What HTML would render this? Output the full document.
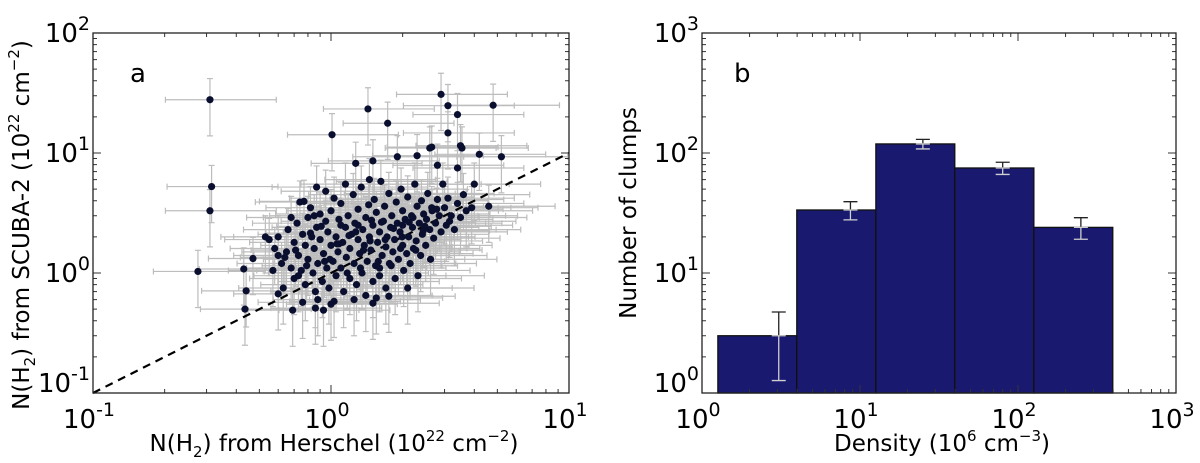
<!DOCTYPE html>
<html><head><meta charset="utf-8"><style>
html,body{margin:0;padding:0;background:#fff;}
svg{display:block;font-family:"DejaVu Sans","Liberation Sans",sans-serif;}
</style></head><body>
<svg id="fig" width="1200" height="463" viewBox="0 0 1200 463" xmlns="http://www.w3.org/2000/svg">
<g id="pa"></g>
<g id="pb"></g>
</svg>
<script>
// ---- Panel a data ----
const xVals = [0.31,0.315,0.31,0.276,0.43,0.44,0.435,1.01,1.43,1.73,2.9,3.1,4.8,3.4,3.1,3.5,3.55,4.2,5.2,2.6,2.65,2.3,1.9,1.27,1.5,2.8,3.4,4.6,4.0,0.87,0.77,0.53,0.47,0.6,0.69,0.76,0.86,0.93,1.03,1.5,1.75,
0.55,0.58,0.6,0.62,0.63,0.65,0.66,0.68,0.7,0.7,0.72,0.73,0.74,0.75,0.76,0.78,0.78,0.8,0.8,0.82,0.83,0.84,0.85,0.86,0.87,0.88,0.9,0.9,0.92,0.93,0.95,0.96,0.97,0.98,1.0,1.0,1.02,1.03,1.05,1.05,1.07,1.08,1.1,1.1,1.12,1.13,1.15,1.16,1.18,1.2,1.2,1.22,1.24,1.25,1.26,1.28,1.3,1.3,1.32,1.34,1.35,1.36,1.38,1.4,1.4,1.42,1.44,1.45,1.47,1.5,1.5,1.52,1.54,1.55,1.57,1.6,1.6,1.62,1.64,1.66,1.68,1.7,1.7,1.72,1.75,1.76,1.78,1.8,1.82,1.85,1.86,1.88,1.9,1.92,1.95,1.97,2.0,2.0,2.02,2.05,2.08,2.1,2.12,2.15,2.18,2.2,2.22,2.25,2.28,2.3,2.32,2.35,2.38,2.4,2.42,2.45,2.5,2.52,2.55,2.6,2.62,2.65,2.7,2.75,2.8,2.85,2.9,2.95,3.0,3.05,3.1,3.2,3.3,3.4,3.5,3.6,3.7,3.9,0.57,0.95,1.15,1.45,0.68,0.88,1.25,1.55,2.1,1.0,0.6,1.3,1.6,2.0,1.1,0.85,
0.64,0.71,0.79,0.91,0.99,1.08,1.17,1.27,1.37,1.48,1.58,1.69,1.83,1.96,2.13,2.27,2.44,2.66,0.73,0.82,0.94,1.06,1.19,1.33,1.46,1.63,1.79,1.99,2.21,2.48,2.78,3.15];
const yVals = [27.8,5.25,3.3,1.03,1.08,0.71,0.5,14.2,23.3,17.7,30.8,24.8,25,20.9,14.7,11.5,11.0,9.75,9.3,11,11.2,9.5,9.3,8.2,8.6,7.9,7.5,3.6,5.5,5.2,3.95,2.0,1.32,0.67,0.49,0.57,0.51,0.49,0.58,0.56,0.64,
1.9,1.6,2.0,1.2,0.75,1.5,2.3,1.1,1.8,0.9,2.6,1.4,3.9,1.05,2.1,1.7,0.8,2.9,1.3,3.5,2.0,1.0,1.6,0.7,2.4,1.2,3.1,1.9,0.85,1.45,2.7,1.1,2.2,0.75,1.7,3.3,1.25,4.2,2.0,0.95,1.5,2.8,1.1,3.8,1.8,0.7,2.4,1.35,3.0,1.6,0.9,2.1,4.5,1.2,2.6,0.8,1.9,3.4,1.45,5.2,1.0,2.3,1.7,2.9,0.65,1.25,3.7,2.0,1.55,0.85,2.5,4.1,1.15,3.2,1.8,2.2,0.95,5.8,1.4,2.7,3.6,1.65,0.75,2.0,4.6,1.2,2.4,3.0,1.5,1.9,0.9,3.9,2.6,1.3,2.2,5.0,1.7,3.3,1.05,2.8,1.45,4.3,2.0,1.2,3.0,2.4,1.6,5.5,1.85,3.6,0.95,2.6,1.4,4.0,2.1,3.1,1.7,2.8,4.6,2.3,1.3,3.5,1.95,2.6,4.1,3.0,2.2,5.5,3.5,2.5,4.2,3.0,2.3,3.8,2.9,4.5,3.3,3.5,1.05,4.8,5.5,6.0,2.9,0.6,0.6,0.62,0.75,0.55,1.4,2.5,1.1,2.5,2.5,3.0,
1.35,1.55,1.15,2.45,1.3,1.75,1.0,2.2,1.55,2.75,1.25,1.9,2.35,1.6,2.65,1.55,2.25,3.3,0.95,2.15,1.25,1.75,2.05,1.1,1.85,2.65,1.15,2.0,2.9,2.45,3.4,2.7];
const relErrX = [0.35, 0.9];   // lower, upper fractional error
const relErrY = [0.5, 0.5];
const aXTicks = [-1,0,1];
const aYTicks = [-1,0,1,2];

// ---- Panel b data ----
const binEdges = [1.26,3.98,12.6,39.8,126,398];
const counts = [3,33.5,119,75,24];
const errX = [3.06,8.7,25,80,250];
const errs = [1.73,5.8,10.9,8.7,4.9];
const bXTicks = [0,1,2,3];
const bYTicks = [0,1,2,3];

const NS='http://www.w3.org/2000/svg';
function mk(parent,tag,attrs){const e=document.createElementNS(NS,tag);for(const k in attrs)e.setAttribute(k,attrs[k]);parent.appendChild(e);return e;}

const A={x0:93,x1:569,y0:33,y1:393,lx0:-1,lx1:1,ly0:-1,ly1:2};
const B={x0:702,x1:1176,y0:33,y1:393,lx0:0,lx1:3,ly0:0,ly1:3};
function sx(P,v){return P.x0+(Math.log10(v)-P.lx0)/(P.lx1-P.lx0)*(P.x1-P.x0);}
function sy(P,v){return P.y1-(Math.log10(v)-P.ly0)/(P.ly1-P.ly0)*(P.y1-P.y0);}

function frame(g,P,xt,yt){
  for(let d=P.lx0;d<P.lx1;d++)for(let m=1;m<10;m++){const x=sx(P,m*Math.pow(10,d));const L=m==1?8:4;
    if(m==1&&d==P.lx0)continue;
    const t1=mk(g,'line',{x1:x,x2:x,y1:P.y1,y2:P.y1-L,stroke:'#333','stroke-width':1});
    
    const t2=mk(g,'line',{x1:x,x2:x,y1:P.y0,y2:P.y0+L,stroke:'#333','stroke-width':1});
    }
  for(let d=P.ly0;d<P.ly1;d++)for(let m=1;m<10;m++){const y=sy(P,m*Math.pow(10,d));const L=m==1?8:4;
    if(m==1&&d==P.ly0)continue;
    const t1=mk(g,'line',{x1:P.x0,x2:P.x0+L,y1:y,y2:y,stroke:'#333','stroke-width':1});
    
    const t2=mk(g,'line',{x1:P.x1,x2:P.x1-L,y1:y,y2:y,stroke:'#333','stroke-width':1});
    }
  const r=mk(g,'rect',{x:P.x0,y:P.y0,width:P.x1-P.x0,height:P.y1-P.y0,fill:'none',stroke:'#222','stroke-width':1.3});
  
  xt.forEach(d=>{const x=sx(P,Math.pow(10,d));
    const t=mk(g,'text',{x:x-4,y:P.y1+35,'text-anchor':'middle','font-size':26,fill:'#000'});
    
    t.innerHTML='10<tspan dy="-12" font-size="19">'+d+'</tspan>';});
  yt.forEach(d=>{let y=sy(P,Math.pow(10,d));if(d==P.ly0)y-=10;
    const t=mk(g,'text',{x:P.x0-3,y:y+9,'text-anchor':'end','font-size':26,fill:'#000'});
    
    t.innerHTML='10<tspan dy="-12" font-size="19">'+d+'</tspan>';});
}

const ga=document.getElementById('pa');
const eg=mk(ga,'g',{stroke:'#bdbdbd','stroke-width':1.2,fill:'none'});

xVals.forEach((xv,i)=>{const yv=yVals[i];const px=sx(A,xv),py=sy(A,yv);
  const xl=sx(A,xv*(1-relErrX[0])),xh=sx(A,xv*(1+relErrX[1]));
  const yl=sy(A,yv*(1-relErrY[0])),yh=sy(A,yv*(1+relErrY[1]));
  const p=mk(eg,'path',{d:`M${xl},${py}H${xh}M${xl},${py-3}V${py+3}M${xh},${py-3}V${py+3}M${px},${yl}V${yh}M${px-3},${yl}H${px+3}M${px-3},${yh}H${px+3}`});
  });
const dl=mk(ga,'line',{x1:sx(A,0.1),y1:sy(A,0.1),x2:sx(A,10),y2:sy(A,10),stroke:'#000','stroke-width':2.2,'stroke-dasharray':'8,6'});

xVals.forEach((xv,i)=>{const c=mk(ga,'circle',{cx:sx(A,xv),cy:sy(A,yVals[i]),r:3.6,fill:'#0a0f2f'});
  });
frame(ga,A,aXTicks,aYTicks);
let t=mk(ga,'text',{x:130,y:82,'font-size':26});t.textContent='a';

t=mk(ga,'text',{x:334,y:451,'text-anchor':'middle','font-size':23});

t.innerHTML='N(H<tspan dy="6" font-size="15">2</tspan><tspan dy="-6">) from Herschel  (10</tspan><tspan dy="-10" font-size="15">22</tspan><tspan dy="10"> cm</tspan><tspan dy="-10" font-size="15">−2</tspan><tspan dy="10">)</tspan>';
t=mk(ga,'text',{x:0,y:0,'text-anchor':'middle','font-size':23,transform:'translate(29,225) rotate(-90)'});

t.innerHTML='N(H<tspan dy="6" font-size="15">2</tspan><tspan dy="-6">) from SCUBA-2  (10</tspan><tspan dy="-10" font-size="15">22</tspan><tspan dy="10"> cm</tspan><tspan dy="-10" font-size="15">−2</tspan><tspan dy="10">)</tspan>';

const gb=document.getElementById('pb');
counts.forEach((c,i)=>{const x0=sx(B,binEdges[i]),x1=sx(B,binEdges[i+1]),y=sy(B,c);
  const r=mk(gb,'rect',{x:x0,y:y,width:x1-x0,height:B.y1-y,fill:'#191970',stroke:'#111','stroke-width':1.3});
  });
counts.forEach((c,i)=>{const x=sx(B,errX[i]),yt=sy(B,c),ylo=sy(B,c-errs[i]),yhi=sy(B,c+errs[i]);
  const g=mk(gb,'g',{'stroke-width':1.3});
  
  mk(g,'path',{d:`M${x},${yhi}V${yt}M${x-7},${yhi}H${x+7}`,stroke:'#222'});
  mk(g,'path',{d:`M${x},${yt}V${ylo}M${x-7},${ylo}H${x+7}M${x-7},${yt}H${x+7}`,stroke:'#cfcfcf'});});
frame(gb,B,bXTicks,bYTicks);
t=mk(gb,'text',{x:734,y:82,'font-size':26});t.textContent='b';

t=mk(gb,'text',{x:942,y:451,'text-anchor':'middle','font-size':23});

t.innerHTML='Density (10<tspan dy="-10" font-size="15">6</tspan><tspan dy="10"> cm</tspan><tspan dy="-10" font-size="15">−3</tspan><tspan dy="10">)</tspan>';
t=mk(gb,'text',{x:0,y:0,'text-anchor':'middle','font-size':23,transform:'translate(636,213) rotate(-90)'});

t.textContent='Number of clumps';
</script>
</body></html>
